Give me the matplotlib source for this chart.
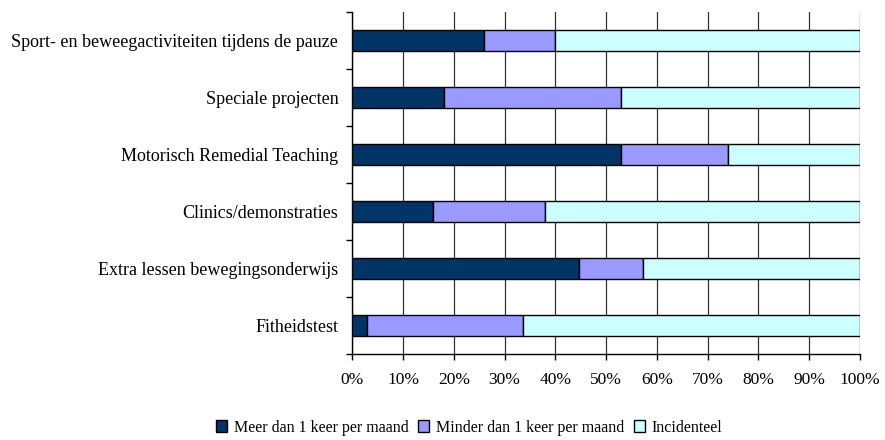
import matplotlib.pyplot as plt
import numpy as np

plt.rcParams['font.family'] = ['Liberation Serif', 'DejaVu Serif']

categorieen = [
    "Sport- en beweegactiviteiten tijdens de pauze",
    "Speciale projecten",
    "Motorisch Remedial Teaching",
    "Clinics/demonstraties",
    "Extra lessen bewegingsonderwijs",
    "Fitheidstest",
]
meer = [26.0, 18.0, 53.0, 16.0, 44.6, 3.0]
minder = [14.0, 35.0, 21.0, 22.0, 12.6, 30.7]
incidenteel = [60.0, 47.0, 26.0, 62.0, 42.8, 66.3]
reeksen = ["Meer dan 1 keer per maand", "Minder dan 1 keer per maand", "Incidenteel"]
kleuren = ["#003366", "#9999FF", "#CCFFFF"]


def plotar():
    fig = plt.figure(figsize=(8.85, 4.4), dpi=100)
    ax = fig.add_axes([0.398, 0.1955, 0.5738, 0.777])

    n = len(categorieen)
    y = np.arange(n)[::-1]
    links = np.zeros(n)
    for waarden, naam, kleur in zip([meer, minder, incidenteel], reeksen, kleuren):
        ax.barh(y, waarden, left=links, height=0.38, color=kleur,
                edgecolor="black", linewidth=1.0, label=naam, zorder=3)
        links += np.array(waarden)

    ax.set_xlim(0, 100)
    ax.set_ylim(-0.5, n - 0.5)
    ax.set_xticks(np.arange(0, 101, 10))
    ax.set_xticklabels([f"{v}%" for v in range(0, 101, 10)], fontsize=12.5)
    ax.tick_params(axis="x", direction="out", length=4, width=1, pad=9)

    # grenzen tussen categorieen als ticks, namen als minor ticks
    ax.set_yticks(np.arange(-0.5, n, 1.0))
    ax.set_yticklabels([])
    ax.set_yticks(y, minor=True)
    ax.set_yticklabels(categorieen, minor=True, fontsize=13)
    ax.tick_params(axis="y", which="major", direction="out", length=4, width=1)
    ax.tick_params(axis="y", which="minor", length=0, pad=10)

    ax.xaxis.grid(True, color="#333333", linewidth=0.9, zorder=0)
    ax.set_axisbelow(True)
    ax.spines["top"].set_visible(False)
    ax.spines["right"].set_visible(False)
    for s in ("left", "bottom"):
        ax.spines[s].set_linewidth(1)

    fig.legend(loc="center", bbox_to_anchor=(0.53, 0.028), ncol=3, frameon=False,
               fontsize=11.5, handlelength=0.7, handleheight=0.7, handletextpad=0.4,
               columnspacing=0.6)

    fig.savefig("out.png", dpi=100)


if __name__ == "__main__":
    plotar()
